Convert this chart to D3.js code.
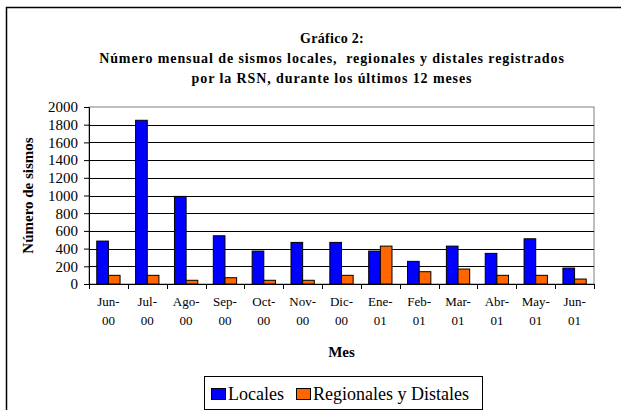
<!DOCTYPE html>
<html>
<head>
<meta charset="utf-8">
<script src="https://cdn.jsdelivr.net/npm/d3@7"></script>
<style>
  body { margin: 0; background: #fff; }
  svg text { font-family: "Liberation Serif", "Times New Roman", serif; }
</style>
</head>
<body>
<div id="chart"></div>
<script>
// data
const months = ["Jun-|00", "Jul-|00", "Ago-|00", "Sep-|00", "Oct-|00", "Nov-|00", "Dic-|00",
                "Ene-|01", "Feb-|01", "Mar-|01", "Abr-|01", "May-|01", "Jun-|01"];
const locales = [485, 1850, 990, 545, 372, 470, 470, 372, 256, 428, 346, 511, 180];
const regionales = [98, 98, 42, 71, 42, 42, 98, 428, 139, 169, 98, 98, 56];
const seriesNames = ["Locales", "Regionales y Distales"];
const seriesColors = ["#0000ff", "#ff6600"];
const yTicks = [0, 200, 400, 600, 800, 1000, 1200, 1400, 1600, 1800, 2000];

const W = 621, H = 410;
const plot = {left: 89, right: 594, top: 107, bottom: 284};
const serif = "'Liberation Serif', 'Times New Roman', serif";

const svg = d3.select("#chart").append("svg")
    .attr("width", W)
    .attr("height", H);

// outer chart frame (runs off the right and bottom edge)
svg.append("rect")
    .attr("x", 6.5).attr("y", 7.5)
    .attr("width", 640).attr("height", 420)
    .attr("fill", "none")
    .attr("stroke", "#000")
    .attr("stroke-width", 1.5);

// scales
const x0 = d3.scaleBand()
    .domain(months)
    .range([plot.left, plot.right])
    .padding(0);
const x1 = d3.scaleBand()
    .domain(seriesNames)
    .range([x0.bandwidth() * 0.2, x0.bandwidth() * 0.8]);
const y = d3.scaleLinear()
    .domain([0, 2000])
    .range([plot.bottom, plot.top]);

// plot area border
svg.append("rect")
    .attr("x", plot.left).attr("y", plot.top)
    .attr("width", plot.right - plot.left)
    .attr("height", plot.bottom - plot.top)
    .attr("fill", "#fff")
    .attr("stroke", "#808080")
    .attr("stroke-width", 1);

// gridlines
svg.append("g")
    .selectAll("line")
    .data(yTicks.filter(d => d > 0 && d < 2000))
    .enter()
    .append("line")
    .attr("x1", plot.left).attr("x2", plot.right)
    .attr("y1", d => Math.round(y(d)) + 0.5)
    .attr("y2", d => Math.round(y(d)) + 0.5)
    .attr("stroke", "#000")
    .attr("stroke-width", 1);

// bars
const rows = months.map((m, i) => ({month: m, vals: [locales[i], regionales[i]]}));
const groups = svg.append("g").attr("id", "bars")
    .selectAll("g")
    .data(rows)
    .enter()
    .append("g")
    .attr("transform", d => `translate(${x0(d.month)},0)`);
groups.selectAll("rect")
    .data(d => d.vals.map((v, j) => ({name: seriesNames[j], value: v, color: seriesColors[j]})))
    .enter()
    .append("rect")
    .attr("x", d => x1(d.name))
    .attr("y", d => y(d.value))
    .attr("width", x1.bandwidth())
    .attr("height", d => y(0) - y(d.value))
    .attr("fill", d => d.color)
    .attr("stroke", "#000")
    .attr("stroke-width", 1);

// y axis
const yAxis = d3.axisLeft(y)
    .tickValues(yTicks)
    .tickFormat(d3.format("d"))
    .tickSize(5)
    .tickPadding(6);
const gy = svg.append("g")
    .attr("transform", `translate(${plot.left},0)`)
    .call(yAxis)
    .attr("font-family", serif)
    .attr("font-size", 15);
gy.select(".domain").attr("stroke", "#000");
gy.selectAll("text").attr("fill", "#000");

// x axis: ticks at category boundaries
svg.append("line")
    .attr("x1", plot.left).attr("x2", plot.right)
    .attr("y1", plot.bottom + 0.5).attr("y2", plot.bottom + 0.5)
    .attr("stroke", "#000");
svg.append("g")
    .selectAll("line")
    .data(months.map(m => x0(m)).concat([plot.right]))
    .enter()
    .append("line")
    .attr("x1", d => Math.round(d) + 0.5).attr("x2", d => Math.round(d) + 0.5)
    .attr("y1", plot.bottom).attr("y2", plot.bottom + 5)
    .attr("stroke", "#000");

const xl = svg.append("g")
    .selectAll("text")
    .data(months)
    .enter()
    .append("text")
    .attr("x", d => x0(d) + x0.bandwidth() / 2)
    .attr("y", 306)
    .attr("text-anchor", "middle")
    .attr("font-family", serif)
    .attr("font-size", "13px");
xl.append("tspan").text(d => d.split("|")[0]);
xl.append("tspan")
    .attr("x", d => x0(d) + x0.bandwidth() / 2)
    .attr("dy", 19)
    .text(d => d.split("|")[1]);

// axis titles
svg.append("text")
    .text("Mes")
    .attr("x", (plot.left + plot.right) / 2)
    .attr("y", 357)
    .attr("text-anchor", "middle")
    .attr("font-family", serif)
    .attr("font-weight", 700)
    .attr("font-size", "15px");

svg.append("text")
    .text("Número de sismos")
    .attr("transform", `translate(33,${(plot.top + plot.bottom) / 2}) rotate(-90)`)
    .attr("text-anchor", "middle")
    .attr("font-family", serif)
    .attr("font-weight", 700)
    .attr("font-size", "15px");

// chart title
const titleLines = ["Gráfico 2:",
    "Número mensual de sismos locales,  regionales y distales registrados",
    "por la RSN, durante los últimos 12 meses"];
svg.append("g")
    .selectAll("text")
    .data(titleLines)
    .enter()
    .append("text")
    .text(d => d)
    .attr("x", 332)
    .attr("y", (d, i) => 43 + i * 20)
    .attr("text-anchor", "middle")
    .attr("font-family", serif)
    .attr("font-weight", 700)
    .attr("font-size", "14px")
    .attr("letter-spacing", (d, i) => i === 0 ? "0.3px" : "0.9px")
    .style("white-space", "pre");

// legend
const legend = svg.append("g").attr("id", "legend");
legend.append("rect")
    .attr("x", 204.5).attr("y", 376.5)
    .attr("width", 278).attr("height", 33)
    .attr("fill", "#fff")
    .attr("stroke", "#000");
const legendX = [211, 296];
seriesNames.forEach((name, i) => {
    legend.append("rect")
        .attr("x", legendX[i] + 0.5).attr("y", 388.5)
        .attr("width", 14).attr("height", 11)
        .attr("fill", seriesColors[i])
        .attr("stroke", "#000");
    legend.append("text")
        .text(name)
        .attr("x", legendX[i] + 17)
        .attr("y", 400)
        .attr("font-family", serif)
        .attr("font-size", "18px");
});
</script>
</body>
</html>
